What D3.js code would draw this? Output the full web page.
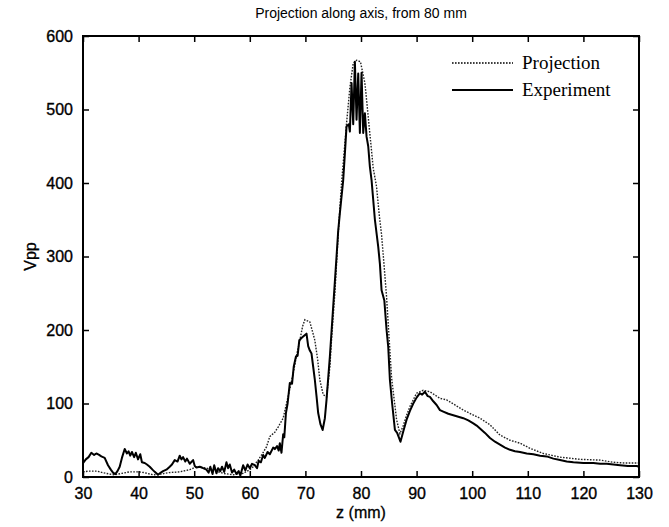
<!DOCTYPE html>
<html>
<head>
<meta charset="utf-8">
<script src="https://cdn.jsdelivr.net/npm/d3@7"></script>
<style>
  body { margin: 0; background: #fff; }
  svg { display: block; }
</style>
</head>
<body>
<div id="chart"></div>
<script>
// values, [z (mm), Vpp]
const projection = [
  [30,7],[31,8],[32.5,8],[33.5,6],[34.8,4],[35.7,3],[37,5],[38.4,7],[40,7],[41,6],[42.6,3],[44,4],
  [45.5,6],[47.4,7],[49.2,10],[50.4,14],[51.5,13],[52.8,11],[54,8],[55.2,5],[57,3],[58.8,5],[60,10],
  [60.6,14],[61.5,23],[62.3,32],[63,41],[63.6,55],[64.5,61],[65.1,68],[66,80],[66.6,100],[67.2,120],
  [67.8,141],[68.4,165],[69,186],[69.5,205],[69.9,214],[70.8,211],[71.2,200],[71.7,186],[72.2,160],
  [72.6,132],[73.2,112],[73.8,109],[74.4,150],[74.7,186],[75.3,250],[75.9,330],[76.5,400],[77.4,481],
  [78,530],[78.6,563],[79.2,567],[79.9,565],[80.7,536],[81.3,490],[82.2,420],[82.8,395],[83.3,355],
  [83.7,330],[84.6,245],[85.5,135],[86.4,78],[87,59],[87.6,70],[88.2,84],[88.8,96],[90,114],[91.2,118],
  [92.4,116],[94.2,107],[95.4,105],[96.9,98],[98.4,91],[100,85],[101.4,80],[103.2,71],[105,57],
  [106.8,50],[108.6,46],[110.4,39],[112.8,32],[115.8,27],[119.4,24],[123,23],[125.4,20],[127.5,19],[130,19]
];

const experiment = [
  [30,19],[30.5,24],[31,27],[31.5,33],[32,30],[32.4,32],[32.9,30],[33.3,28],[33.9,26],[34.5,16],[35,10],
  [35.4,6],[35.8,4],[36.2,8],[36.6,14],[37,26],[37.5,38],[37.9,32],[38.2,35],[38.5,29],[38.8,34],[39.2,27],
  [39.5,33],[39.9,24],[40.3,31],[40.6,20],[41.1,19],[41.5,17],[42,14],[42.5,10],[42.9,7],[43.5,3],[44,6],
  [44.4,8],[45,10],[45.6,14],[46,17],[46.5,23],[47,21],[47.4,29],[47.7,24],[48,27],[48.4,21],[48.7,25],
  [49.2,18],[49.8,23],[50.1,15],[50.4,13],[51,14],[51.6,12],[52.2,10],[52.6,6],[52.9,14],[53.3,4],
  [53.6,16],[54,5],[54.3,12],[54.7,8],[55,14],[55.4,7],[55.8,20],[56.1,12],[56.4,17],[56.8,6],[57.2,10],
  [57.6,4],[58,8],[58.3,2],[58.8,16],[59.2,9],[59.6,17],[60,12],[60.4,18],[60.9,16],[61.3,12],[61.6,22],
  [62,20],[62.4,30],[62.7,26],[63.2,34],[63.6,31],[64.2,40],[64.5,38],[64.9,42],[65.2,36],[65.4,46],
  [65.7,33],[66,58],[66.2,54],[66.5,87],[66.8,100],[67.2,128],[67.6,127],[67.9,150],[68.3,164],[68.6,165],
  [68.9,186],[69.3,189],[69.6,191],[70.2,195],[70.5,178],[70.8,172],[71.1,168],[71.4,150],[71.7,132],
  [72,110],[72.3,87],[72.7,72],[73.1,64],[73.5,80],[73.8,105],[74.4,164],[75,232],[75.6,300],[75.9,335],
  [76.2,359],[76.8,404],[77.1,440],[77.4,477],[77.8,480],[78,470],[78.3,536],[78.6,480],[78.9,565],
  [79.2,486],[79.5,549],[79.8,468],[80.1,550],[80.4,468],[80.7,495],[81,463],[81.3,450],[81.6,422],
  [81.9,404],[82.5,350],[83.1,313],[83.4,290],[83.7,254],[84.2,240],[84.6,200],[84.9,177],[85.2,132],
  [85.6,100],[86.1,64],[86.5,60],[87.1,48],[87.6,62],[88.2,78],[88.8,90],[89.4,100],[90,108],[90.6,114],
  [91,112],[91.5,116],[92,110],[92.4,109],[93,103],[93.6,98],[94.2,91],[94.8,89],[95.7,86],[96.6,84],
  [97.5,82],[98.4,80],[99.3,77],[100.2,73],[100.8,70],[101.4,66],[102.3,60],[103.2,53],[104.1,48],
  [105,44],[105.9,40],[106.8,37],[107.7,35],[108.6,34],[109.8,32],[111,31],[112.2,29],[113.4,28],
  [114.6,25],[115.8,23],[117,21],[118.2,20],[120,19],[121.8,19],[123,18],[124.2,18],[125.4,17],
  [126.6,16],[128,15],[129.6,15],[130,14]
];

const xTicks = [30, 40, 50, 60, 70, 80, 90, 100, 110, 120, 130];
const yTicks = [0, 100, 200, 300, 400, 500, 600];
const legendLabels = ["Projection", "Experiment"];

const width = 669, height = 527;
const margin = {top: 36, right: 30, bottom: 50, left: 83};
const sans = "Arial, 'Liberation Sans', sans-serif";

const svg = d3.select("#chart").append("svg")
    .attr("width", width)
    .attr("height", height);

const x = d3.scaleLinear().domain([30, 130]).range([margin.left, width - margin.right]);
const y = d3.scaleLinear().domain([0, 600]).range([height - margin.bottom, margin.top]);

const line = d3.line().x(d => x(d[0])).y(d => y(d[1]));

// curves
svg.append("path")
    .datum(projection)
    .attr("fill", "none")
    .attr("stroke", "#222")
    .attr("stroke-width", 1.4)
    .attr("stroke-dasharray", "1.6,1.4")
    .attr("d", line);

svg.append("path")
    .datum(experiment)
    .attr("fill", "none")
    .attr("stroke", "#000")
    .attr("stroke-width", 2)
    .attr("stroke-linejoin", "round")
    .attr("d", line);

// axes, ticks pointing inward like matlab
const tickStyle = g => {
    g.select(".domain").remove();
    g.selectAll(".tick line").attr("stroke", "#000").attr("stroke-width", 1.5);
    g.selectAll(".tick text")
        .attr("fill", "#000")
        .attr("stroke", "#000")
        .attr("stroke-width", 0.35)
        .style("font-family", sans)
        .style("font-size", "16px");
};

svg.append("g")
    .attr("transform", `translate(0,${y(0)})`)
    .call(d3.axisBottom(x).tickValues(xTicks).tickSizeInner(-6).tickPadding(11))
    .call(tickStyle);

svg.append("g")
    .attr("transform", `translate(0,${y(600)})`)
    .call(d3.axisTop(x).tickValues(xTicks).tickSizeInner(-6).tickFormat(""))
    .call(tickStyle);

svg.append("g")
    .attr("transform", `translate(${x(30)},0)`)
    .call(d3.axisLeft(y).tickValues(yTicks).tickSizeInner(-6).tickPadding(10))
    .call(tickStyle);

svg.append("g")
    .attr("transform", `translate(${x(130)},0)`)
    .call(d3.axisRight(y).tickValues(yTicks).tickSizeInner(-6).tickFormat(""))
    .call(tickStyle);

// box
svg.append("rect")
    .attr("x", x(30))
    .attr("y", y(600))
    .attr("width", x(130) - x(30))
    .attr("height", y(0) - y(600))
    .attr("fill", "none")
    .attr("stroke", "#000")
    .attr("stroke-width", 2);

// titles
svg.append("text")
    .attr("x", (x(30) + x(130)) / 2)
    .attr("y", 18)
    .attr("text-anchor", "middle")
    .style("font-family", sans)
    .style("font-size", "14px")
    .text("Projection along axis, from 80 mm");

svg.append("text")
    .attr("x", (x(30) + x(130)) / 2)
    .attr("y", 518)
    .attr("text-anchor", "middle")
    .attr("stroke", "#000")
    .attr("stroke-width", 0.3)
    .style("font-family", sans)
    .style("font-size", "16px")
    .text("z (mm)");

svg.append("text")
    .attr("transform", `translate(36,${(y(0) + y(600)) / 2}) rotate(-90)`)
    .attr("text-anchor", "middle")
    .attr("stroke", "#000")
    .attr("stroke-width", 0.3)
    .style("font-family", sans)
    .style("font-size", "16px")
    .text("Vpp");

// legend
const legend = svg.append("g").attr("transform", "translate(452,63)");
legendLabels.forEach((label, i) => {
    const row = legend.append("g").attr("transform", `translate(0,${i * 27})`);
    row.append("line")
        .attr("x1", 0).attr("x2", 61)
        .attr("stroke", "#000")
        .attr("stroke-width", i === 0 ? 1.4 : 2)
        .attr("stroke-dasharray", i === 0 ? "1.6,1.4" : null);
    row.append("text")
        .attr("x", 70)
        .attr("y", 6)
        .style("font-family", "'Liberation Serif', 'Times New Roman', serif")
        .style("font-size", "19px")
        .text(label);
});
</script>
</body>
</html>
